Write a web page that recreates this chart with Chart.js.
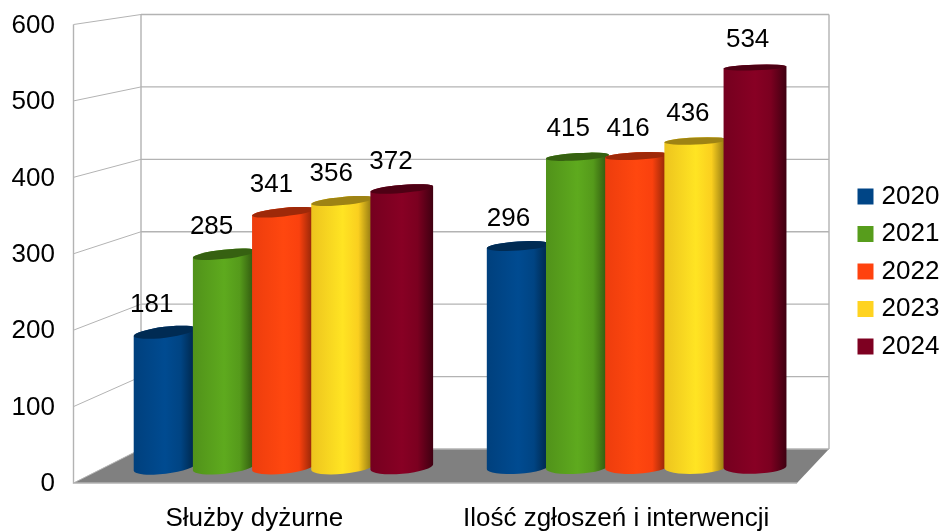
<!DOCTYPE html>
<html>
<head>
<meta charset="utf-8">
<style>
    html, body { margin: 0; padding: 0; background: #fff; }
    canvas { display: block; }
</style>
<script src="https://cdn.jsdelivr.net/npm/chart.js@4"></script>
</head>
<body>
<canvas id="dutyChart" width="942" height="531"></canvas>
<script>
var categories = ['Służby dyżurne', 'Ilość zgłoszeń i interwencji'];
var years = ['2020', '2021', '2022', '2023', '2024'];
var values2020 = [181, 296];
var values2021 = [285, 415];
var values2022 = [341, 416];
var values2023 = [356, 436];
var values2024 = [372, 534];
var yearValues = [values2020, values2021, values2022, values2023, values2024];
var yearColors = ['#004586', '#579d1c', '#ff420e', '#ffd320', '#7e0021'];

var gridColor = '#b3b3b3';
var floorColor = '#808080';

// LibreOffice style 3D box: front plane is the chart area, back wall sits further in
var backLeft = 141, backRight = 829;

// bars stand between front plane and back wall, so x gets squeezed a bit
function barPlaneX(x) {
    return x * 0.9765 + 34.96;
}

function shade(hex, f) {
    var n = parseInt(hex.slice(1), 16);
    var r = Math.min(255, Math.round((n >> 16) * f));
    var g = Math.min(255, Math.round(((n >> 8) & 255) * f));
    var b = Math.min(255, Math.round((n & 255) * f));
    return 'rgb(' + r + ',' + g + ',' + b + ')';
}

function drawBox(chart) {
    var ctx = chart.ctx, area = chart.chartArea;
    var y = chart.scales.y, yBack = chart.scales.yBack;
    var floorY = yBack.getPixelForValue(0);
    var topY = yBack.getPixelForValue(600);

    ctx.save();
    ctx.fillStyle = floorColor;
    ctx.beginPath();
    ctx.moveTo(area.left, area.bottom);
    ctx.lineTo(area.right, area.bottom);
    ctx.lineTo(backRight, floorY);
    ctx.lineTo(backLeft, floorY);
    ctx.closePath();
    ctx.fill();

    ctx.strokeStyle = gridColor;
    y.ticks.forEach(function (tick) {
        var fy = y.getPixelForValue(tick.value);
        var by = yBack.getPixelForValue(tick.value);
        ctx.lineWidth = 1;
        ctx.beginPath();
        ctx.moveTo(area.left, fy);
        ctx.lineTo(backLeft, by);
        ctx.stroke();
        ctx.lineWidth = 1.4;
        ctx.beginPath();
        ctx.moveTo(backLeft, by);
        ctx.lineTo(backRight, by);
        ctx.stroke();
    });
    ctx.lineWidth = 1.4;
    ctx.beginPath();
    ctx.moveTo(area.left, y.getPixelForValue(600));
    ctx.lineTo(area.left, area.bottom);
    ctx.lineTo(area.right, area.bottom);
    ctx.moveTo(backLeft, topY);
    ctx.lineTo(backLeft, floorY);
    ctx.moveTo(backRight, topY);
    ctx.lineTo(backRight, floorY);
    ctx.stroke();
    ctx.restore();
}

function drawCylinder(ctx, bar, color) {
    var cx = barPlaneX(bar.x);
    var rx = bar.width * 0.9765 / 2;
    var rot = -(7 - (cx - 163) / 592 * 5) * Math.PI / 180; // perspective tilt, flatter to the right
    var topY = bar.y, baseY = bar.base - 1;
    var ryTop = 2.5 + (topY - 40) * 0.01;
    var ryBase = 2.5 + (baseY - 40) * 0.01;
    var dx = rx * Math.cos(rot), dy = rx * Math.sin(rot);

    var grad = ctx.createLinearGradient(cx - rx, 0, cx + rx, 0);
    grad.addColorStop(0, shade(color, 0.93));
    grad.addColorStop(0.5, shade(color, 1.08));
    grad.addColorStop(0.75, shade(color, 0.98));
    grad.addColorStop(1, shade(color, 0.5));

    ctx.fillStyle = grad;
    ctx.beginPath();
    ctx.moveTo(cx - dx, topY - dy);
    ctx.lineTo(cx - dx, baseY - dy);
    ctx.ellipse(cx, baseY, rx, ryBase, rot, Math.PI, 0, true);
    ctx.lineTo(cx + dx, topY + dy);
    ctx.ellipse(cx, topY, rx, ryTop, rot, 0, Math.PI, true);
    ctx.closePath();
    ctx.fill();

    ctx.fillStyle = shade(color, 0.62);
    ctx.beginPath();
    ctx.ellipse(cx, topY, rx, ryTop, rot, 0, Math.PI * 2);
    ctx.fill();
}

var cylinderPlugin = {
    id: 'cylinders',
    afterLayout: function (chart) {
        // legend sits in its own spot right of the box
        var legend = chart.legend;
        legend.left = 851;
        legend.right = 942;
        legend.top = 172;
        legend.bottom = 374;
    },
    beforeDatasetsDraw: function (chart) {
        var ctx = chart.ctx;
        drawBox(chart);
        // later years overlap earlier ones, so no native drawing here
        chart.data.datasets.forEach(function (ds, i) {
            chart.getDatasetMeta(i).data.forEach(function (bar) {
                drawCylinder(ctx, bar, ds.backgroundColor);
            });
        });
        ctx.save();
        ctx.fillStyle = '#000';
        ctx.font = '26px "Liberation Sans"';
        ctx.textAlign = 'center';
        ctx.textBaseline = 'middle';
        chart.data.datasets.forEach(function (ds, i) {
            chart.getDatasetMeta(i).data.forEach(function (bar, j) {
                var cx = barPlaneX(bar.x);
                ctx.fillText(ds.data[j], cx - 12 + (cx - 283) * 0.0098, bar.y - 27.5);
            });
        });
        ctx.restore();
        return false;
    }
};

Chart.defaults.font.family = '"Liberation Sans"';
Chart.defaults.font.size = 26;
Chart.defaults.color = '#000';

new Chart(document.getElementById('dutyChart').getContext('2d'), {
    type: 'bar',
    data: {
        labels: categories,
        datasets: years.map(function (year, i) {
            return {
                label: year,
                data: yearValues[i],
                backgroundColor: yearColors[i],
                yAxisID: 'yBar',
                categoryPercentage: 0.838,
                barPercentage: 1.063
            };
        })
    },
    options: {
        responsive: false,
        animation: false,
        layout: { padding: { top: 24.5, right: 145 } },
        plugins: {
            legend: {
                position: 'chartArea',
                align: 'start',
                labels: {
                    usePointStyle: true,
                    pointStyle: 'rect',
                    boxWidth: 6,
                    boxHeight: 16,
                    padding: 11.5
                }
            },
            tooltip: { enabled: false }
        },
        scales: {
            x: {
                grid: { display: false },
                border: { display: false },
                ticks: { padding: 12, maxRotation: 0, autoSkip: false },
                afterFit: function (scale) {
                    scale.height = 48;
                    scale.paddingLeft = scale.paddingRight = 0;
                }
            },
            y: {
                min: 0,
                max: 600,
                grid: { display: false },
                border: { display: false },
                ticks: { stepSize: 100, padding: 10.5, labelOffset: 1 },
                afterFit: function (scale) {
                    scale.width = 73.5;
                    scale.paddingTop = scale.paddingBottom = 0;
                }
            },
            // same values, mapped onto the plane the bars stand in
            yBar: { display: false, position: 'left', min: -20, max: 591.33 },
            // and onto the back wall
            yBack: { display: false, position: 'left', min: -46.95, max: 586.2 }
        }
    },
    plugins: [cylinderPlugin]
});
</script>
</body>
</html>
